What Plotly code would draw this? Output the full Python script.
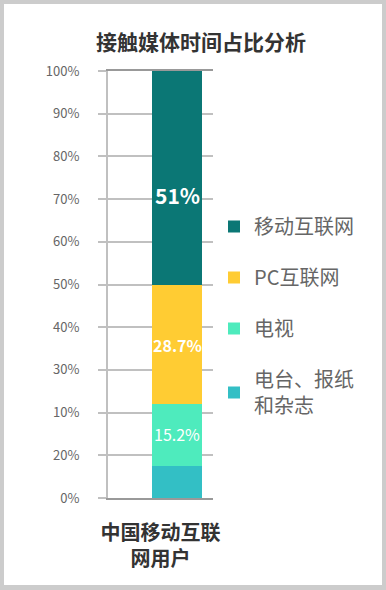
import plotly.graph_objects as go

# ---- data ----
category = ["中国移动互联<br>网用户"]
series_names = ["电台、报纸<br>和杂志", "电视", "PC互联网", "移动互联网"]
series_values = [7.4, 14.6, 27.8, 50.2]          # segment heights (%)
label_texts = ["", "15.2%", "28.7%", "51%"]       # data labels as printed
label_y = [None, 14.9, 35.9, 70.9]                # where the printed labels sit (%)
colors = ["#33BFC5", "#4EEBBD", "#FFCC33", "#0B7775"]
tick_vals = [0, 10, 20, 30, 40, 50, 60, 70, 80, 90, 100]
tick_text = ["0%", "20%", "10%", "30%", "40%", "50%", "60%", "70%", "80%", "90%", "100%"]

FONT = "Noto Sans CJK SC"

fig = go.Figure()
n = len(series_names)
for i, (name, v, c) in enumerate(zip(series_names, series_values, colors)):
    fig.add_trace(go.Bar(
        x=[0], y=[v], name=name, marker=dict(color=c, line=dict(width=0)),
        width=1, legendgroup=name, legendrank=n - i, hoverinfo="skip",
    ))

annotations = []
for i, (t, yy) in enumerate(zip(label_texts, label_y)):
    if not t:
        continue
    big = (i == 3)
    annotations.append(dict(
        x=0, y=yy, xref="x", yref="y", text=t, showarrow=False,
        font=dict(family=FONT, size=21 if big else 16, color="white",
                  weight="bold" if i >= 2 else "normal"),
    ))

# white card inside a gray frame
W, H = 386, 590
l, r, t, b = 108, 173, 71, 92
pw, ph = W - l - r, H - t - b
def px_x(x): return (x - l) / pw
def px_y(y): return (H - b - y) / ph

fig.update_layout(
    width=W, height=H,
    margin=dict(l=l, r=r, t=t, b=b, pad=0),
    paper_bgcolor="#cccccc", plot_bgcolor="rgba(0,0,0,0)",
    barmode="stack", bargap=0,
    shapes=[dict(type="rect", xref="paper", yref="paper", layer="below",
                 x0=px_x(4), x1=px_x(382), y0=px_y(585), y1=px_y(4),
                 fillcolor="white", line=dict(width=0))],
    title=dict(text="接触媒体时间占比分析", x=201 / W, xanchor="center",
               y=1 - 43 / H, yanchor="middle",
               font=dict(family=FONT, size=21, color="#333333", weight="bold")),
    font=dict(family=FONT),
    legend=dict(x=px_x(214), xanchor="left", y=px_y(207), yanchor="top",
                traceorder="grouped", tracegroupgap=22,
                font=dict(family=FONT, size=20, color="#666666"),
                bgcolor="rgba(0,0,0,0)", itemclick=False),
    annotations=annotations,
    xaxis=dict(range=[-1.38, 0.72], showticklabels=False, ticks="",
               showgrid=False, zeroline=False, automargin=False,
               showline=True, linecolor="#999999", linewidth=2, mirror=True,
               title=dict(text=category[0], standoff=27,
                          font=dict(family=FONT, size=20, color="#333333", weight="bold"))),
    yaxis=dict(range=[0, 100], tickvals=tick_vals, ticktext=tick_text,
               ticks="outside", ticklen=8, tickwidth=2, tickcolor="#c0c0c0",
               showline=True, linecolor="#c0c0c0", linewidth=2,
               gridcolor="#c0c0c0", gridwidth=2, zeroline=False,
               automargin=False, ticklabelstandoff=16,
               tickfont=dict(family=FONT, size=13, color="#666666")),
)

fig.write_html("out.html", config={"displayModeBar": False},
               post_script="document.body.style.margin='0';document.body.style.overflow='hidden';")
